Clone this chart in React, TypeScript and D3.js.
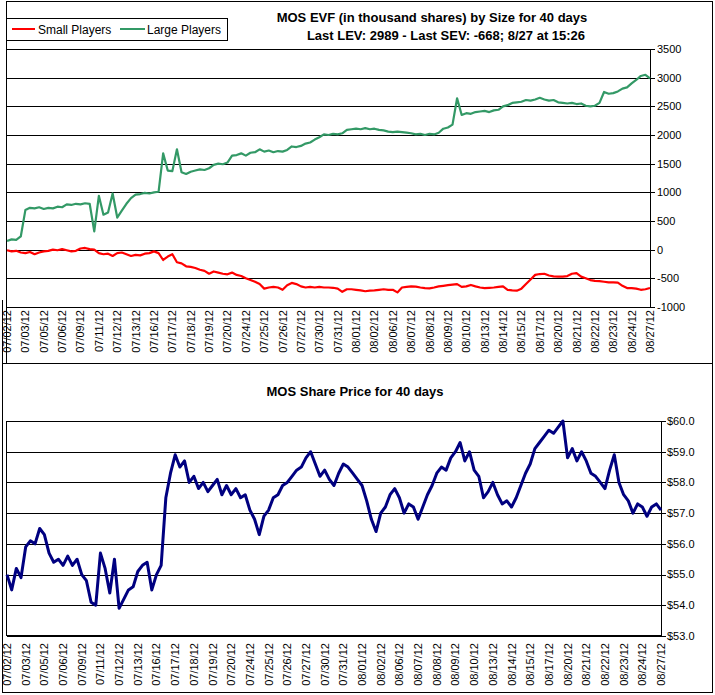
import React from 'react';
import * as d3 from 'd3';

const dayLabels = [
  '07/02/12','07/03/12','07/05/12','07/06/12','07/09/12','07/11/12','07/12/12','07/13/12','07/16/12',
  '07/17/12','07/18/12','07/19/12','07/20/12','07/24/12','07/25/12','07/26/12','07/27/12','07/30/12',
  '07/31/12','08/01/12','08/02/12','08/06/12','08/07/12','08/08/12','08/09/12','08/10/12','08/13/12',
  '08/14/12','08/15/12','08/17/12','08/20/12','08/21/12','08/22/12','08/23/12','08/24/12','08/27/12'
];

const SAMPLES_PER_DAY = 4;

const largePlayers = [
  150,180,170,230,690,730,720,740,710,730,720,750,740,790,780,800,790,810,800,320,
  940,610,650,980,560,680,800,900,960,970,990,980,1000,1010,1680,1380,1370,1750,1350,1320,
  1360,1380,1400,1390,1420,1480,1500,1490,1520,1640,1650,1680,1640,1690,1700,1750,1710,1730,1700,1720,
  1710,1740,1800,1790,1810,1850,1870,1920,1960,2010,2000,2020,2010,2030,2090,2100,2110,2100,2120,2100,
  2110,2090,2080,2060,2050,2060,2050,2040,2030,2010,2020,2000,2020,2010,2040,2110,2130,2180,2640,2350,
  2380,2370,2400,2410,2420,2400,2430,2440,2500,2520,2560,2570,2580,2610,2600,2620,2650,2620,2600,2610,
  2570,2560,2550,2560,2540,2550,2510,2500,2510,2560,2750,2720,2730,2760,2810,2830,2900,2960,3030,3050,
  2989
];

const smallPlayers = [
  -10,-30,-20,-50,-60,-40,-80,-50,-30,-20,0,-10,10,-10,-30,-20,20,30,10,0,
  -60,-80,-70,-110,-60,-50,-80,-110,-90,-100,-70,-60,-30,-60,-180,-120,-80,-220,-240,-290,
  -300,-320,-350,-370,-420,-380,-400,-420,-430,-400,-440,-460,-500,-530,-560,-600,-680,-660,-650,-660,
  -700,-620,-580,-600,-640,-660,-650,-660,-650,-660,-660,-665,-680,-735,-690,-690,-700,-710,-725,-715,
  -710,-700,-690,-700,-700,-745,-660,-650,-640,-645,-660,-670,-675,-660,-640,-630,-620,-610,-600,-650,
  -640,-615,-640,-660,-670,-665,-660,-650,-640,-700,-710,-715,-680,-600,-520,-440,-425,-420,-450,-465,
  -470,-470,-460,-420,-410,-470,-500,-530,-545,-550,-560,-570,-570,-575,-630,-670,-670,-680,-700,-690,
  -668
];

const sharePrice = [
  55.0,54.5,55.2,54.9,55.9,56.1,56.0,56.5,56.3,55.7,55.4,55.5,55.3,55.6,55.3,55.5,55.0,54.8,54.1,54.0,
  55.7,55.2,54.4,55.5,53.9,54.2,54.5,54.6,55.1,55.3,55.4,54.5,55.0,55.3,57.5,58.3,58.9,58.5,58.7,58.0,
  58.2,57.8,58.0,57.7,57.9,58.1,57.6,57.9,57.6,57.8,57.5,57.6,57.1,56.8,56.3,56.9,57.1,57.5,57.6,57.9,
  58.0,58.2,58.4,58.5,58.8,59.0,58.6,58.2,58.4,58.1,57.9,58.3,58.6,58.5,58.3,58.1,57.9,57.4,56.8,56.4,
  57.0,57.2,57.6,57.8,57.5,57.0,57.3,57.2,56.8,57.2,57.6,57.9,58.3,58.5,58.4,58.8,59.0,59.3,58.7,59.0,
  58.4,58.2,57.5,57.7,58.0,57.6,57.3,57.4,57.2,57.5,57.9,58.3,58.6,59.1,59.3,59.5,59.7,59.6,59.8,60.0,
  58.8,59.1,58.7,59.0,58.7,58.3,58.2,58.0,57.8,58.4,58.9,58.0,57.6,57.4,57.0,57.3,57.2,56.9,57.2,57.3,
  57.1
];

const evfTicks = [3500, 3000, 2500, 2000, 1500, 1000, 500, 0, -500, -1000];
const priceTicks = [60, 59, 58, 57, 56, 55, 54, 53];

const FONT = "'Liberation Sans', Arial, Helvetica, sans-serif";
const crisp = (v: number) => Math.round(v) + 0.5;

export default function App() {
  const W = 715, H = 695;
  const lastDay = dayLabels.length - 1;

  // top chart
  const xTop = d3.scaleLinear().domain([0, lastDay]).range([7, 650]);
  const yTop = d3.scaleLinear().domain([-1000, 3500]).range([307, 49]);
  // bottom chart
  const xBot = d3.scaleLinear().domain([0, lastDay]).range([7, 661]);
  const yBot = d3.scaleLinear().domain([53, 60]).range([636, 421]);

  const lineTop = d3.line<number>()
    .x((_, i) => xTop(i / SAMPLES_PER_DAY))
    .y((d) => yTop(d));
  const lineBot = d3.line<number>()
    .x((_, i) => xBot(i / SAMPLES_PER_DAY))
    .y((d) => yBot(d));

  const fmtPrice = d3.format('$.1f');

  return (
    <svg width={W} height={H} style={{ position: 'absolute', left: 0, top: 0, background: '#fff' }}
      fontFamily={FONT}>
      <rect x={0} y={0} width={W} height={H} fill="#fff" />
      {/* frames */}
      <rect x={6.5} y={1.5} width={706} height={362} fill="none" stroke="#000" shapeRendering="crispEdges" />
      <rect x={2.5} y={363.5} width={710} height={329} fill="none" stroke="#000" shapeRendering="crispEdges" />
      <line x1={2.5} x2={2.5} y1={300} y2={364} stroke="#000" shapeRendering="crispEdges" />

      {/* ===== TOP CHART ===== */}
      <text x={432} y={22} textAnchor="middle" fontWeight="bold" fontSize={13}>MOS EVF (in thousand shares) by Size for 40 days</text>
      <text x={446} y={40} textAnchor="middle" fontWeight="bold" fontSize={13}>Last LEV: 2989 - Last SEV: -668; 8/27 at 15:26</text>

      {/* legend */}
      <rect x={6.5} y={18.5} width={221} height={22} fill="#fff" stroke="#000" shapeRendering="crispEdges" />
      <line x1={12} x2={35} y1={29} y2={29} stroke="#ff0000" strokeWidth={2} />
      <text x={38} y={33.5} fontSize={12}>Small Players</text>
      <line x1={120} x2={145} y1={29} y2={29} stroke="#339966" strokeWidth={2} />
      <text x={147} y={33.5} fontSize={12}>Large Players</text>

      {/* plot area */}
      <rect x={6.5} y={49.5} width={643.5} height={257.5} fill="#fff" stroke="#000" shapeRendering="crispEdges" />
      {evfTicks.map((t) => (
        <g key={'gt' + t}>
          <line x1={7} x2={650} y1={crisp(yTop(t))} y2={crisp(yTop(t))} stroke="#000" shapeRendering="crispEdges" />
          <line x1={650} x2={655} y1={crisp(yTop(t))} y2={crisp(yTop(t))} stroke="#000" shapeRendering="crispEdges" />
          <text x={657} y={yTop(t)} dy="0.35em" fontSize={11}>{t}</text>
        </g>
      ))}
      <line x1={650.5} x2={650.5} y1={49} y2={307} stroke="#000" shapeRendering="crispEdges" />

      <path d={lineTop(smallPlayers) || ''} fill="none" stroke="#ff0000" strokeWidth={2.2} strokeLinejoin="round" />
      <path d={lineTop(largePlayers) || ''} fill="none" stroke="#339966" strokeWidth={2.2} strokeLinejoin="round" />

      {dayLabels.map((d, i) => (
        <text key={'xt' + i} transform={`translate(${xTop(i) + 4},310) rotate(-90)`} textAnchor="end" fontSize={11}>{d}</text>
      ))}

      {/* ===== BOTTOM CHART ===== */}
      <text x={355} y={396} textAnchor="middle" fontWeight="bold" fontSize={13}>MOS Share Price for 40 days</text>
      <rect x={6.5} y={421.5} width={654.5} height={214} fill="#fff" stroke="#000" shapeRendering="crispEdges" />
      {priceTicks.map((t) => (
        <g key={'gb' + t}>
          <line x1={7} x2={661} y1={crisp(yBot(t))} y2={crisp(yBot(t))} stroke="#000" shapeRendering="crispEdges" />
          <line x1={661} x2={666} y1={crisp(yBot(t))} y2={crisp(yBot(t))} stroke="#000" shapeRendering="crispEdges" />
          <text x={667} y={yBot(t)} dy="0.35em" fontSize={11}>{fmtPrice(t)}</text>
        </g>
      ))}
      <line x1={661.5} x2={661.5} y1={421} y2={636} stroke="#000" shapeRendering="crispEdges" />

      <path d={lineBot(sharePrice) || ''} fill="none" stroke="#000080" strokeWidth={3} strokeLinejoin="round" />

      {dayLabels.map((d, i) => (
        <text key={'xb' + i} transform={`translate(${xBot(i) + 4},643) rotate(-90)`} textAnchor="end" fontSize={11}>{d}</text>
      ))}
    </svg>
  );
}
